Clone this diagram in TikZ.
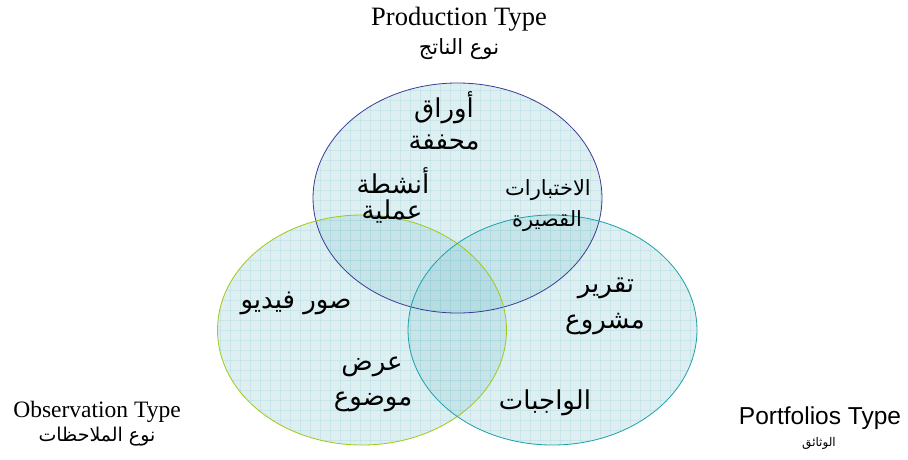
\documentclass[tikz,border=0pt]{standalone}
\usepackage{fontspec}
\setmainfont{Liberation Serif}
\newfontfamily\arabicfont[Script=Arabic]{DejaVu Sans}
\newfontfamily\arialfont{Liberation Sans}
\TeXXeTstate=1
\definecolor{vfill}{RGB}{148,205,215}
\definecolor{topline}{RGB}{60,60,150}
\definecolor{leftline}{RGB}{160,200,20}
\definecolor{rightline}{RGB}{30,160,168}
\tikzset{
  vennfill/.style={fill=vfill, fill opacity=0.3},
  gridline/.style={draw=vfill, draw opacity=0.25, line width=0.6pt},
  ar/.style={font=\arabicfont\fontsize{#1}{#1}\selectfont, inner sep=0pt, text=black},
  titleserif/.style={font=\fontsize{#1}{#1}\selectfont, inner sep=0pt},
}
\begin{document}
\begin{tikzpicture}[x=1pt,y=-1pt]
\useasboundingbox[fill=white] (0,0) rectangle (908,459);
% fills
\foreach \cx/\cy in {457.5/198, 362/330, 552.5/330}{
  \fill[vennfill] (\cx,\cy) ellipse [x radius=144.5, y radius=115];
  \begin{scope}
    \clip (\cx,\cy) ellipse [x radius=144.5, y radius=115];
    \foreach \gx in {0,10,...,900}{ \draw[gridline] (\gx,0) -- (\gx,459); }
    \foreach \gy in {0,10,...,450}{ \draw[gridline] (0,\gy) -- (908,\gy); }
  \end{scope}
}
\draw[topline, line width=0.8pt] (457.5,198) ellipse [x radius=144.5, y radius=115];
\draw[leftline, line width=0.8pt] (362,330) ellipse [x radius=144.5, y radius=115];
\draw[rightline, line width=0.8pt] (552.5,330) ellipse [x radius=144.5, y radius=115];
% titles
\node[titleserif=26.5] (prodT) at (459,19) {Production Type};
\node[ar=21] (prodA) at (459,49) {\beginR نوع الناتج\endR};
\node[titleserif=23.5] (obsT) at (97,412) {Observation Type};
\node[ar=19] (obsA) at (97,437) {\beginR نوع الملاحظات\endR};
\node[font=\arialfont\fontsize{24.5}{24.5}\selectfont, inner sep=0pt] (portT) at (820,418) {Portfolios Type};
\node[ar=12] (portA) at (819,443) {\beginR الوثائق\endR};
% items
\node[ar=26] (i1) at (444,108) {\beginR أوراق\endR};
\node[ar=26] (i2) at (444,143) {\beginR محففة\endR};
\node[ar=26] (i3) at (393,181) {\beginR أنشطة\endR};
\node[ar=26] (i4) at (392,212) {\beginR عملية\endR};
\node[ar=21] (i5) at (548,190) {\beginR الاختبارات\endR};
\node[ar=21] (i6) at (547,221) {\beginR القصيرة\endR};
\node[ar=26] (i7) at (296,303) {\beginR صور فيديو\endR};
\node[ar=26] (i8) at (606,288) {\beginR تقرير\endR};
\node[ar=26] (i9) at (605,324) {\beginR مشروع\endR};
\node[ar=26] (i10) at (372,367) {\beginR عرض\endR};
\node[ar=26] (i11) at (373,402) {\beginR موضوع\endR};
\node[ar=26] (i12) at (545,403) {\beginR الواجبات\endR};
\end{tikzpicture}
\end{document}
